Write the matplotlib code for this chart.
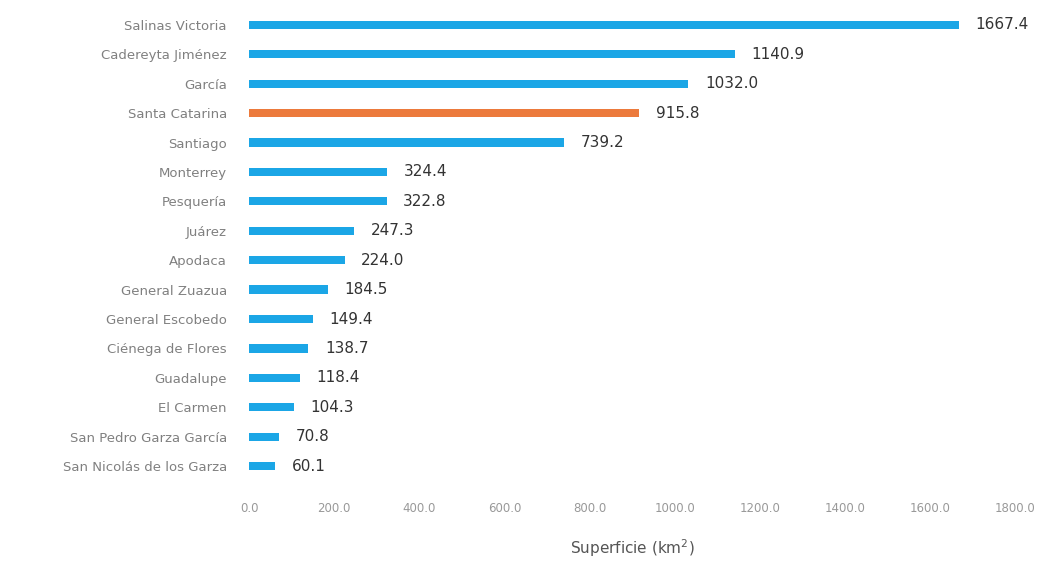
import numpy as np
import matplotlib
matplotlib.use("Agg")
import matplotlib.pyplot as plt

municipios = ["Salinas Victoria", "Cadereyta Jiménez", "García", "Santa Catarina",
              "Santiago", "Monterrey", "Pesquería", "Juárez", "Apodaca",
              "General Zuazua", "General Escobedo", "Ciénega de Flores", "Guadalupe",
              "El Carmen", "San Pedro Garza García", "San Nicolás de los Garza"]
superficie = [1667.4, 1140.9, 1032.0, 915.8, 739.2, 324.4, 322.8, 247.3, 224.0,
              184.5, 149.4, 138.7, 118.4, 104.3, 70.8, 60.1]
destacado = "Santa Catarina"
xticks = [0, 200, 400, 600, 800, 1000, 1200, 1400, 1600, 1800]

azul = "#1ba6e6"
naranja = "#ec7a3c"

fig = plt.figure(figsize=(10.47, 5.65), dpi=100)
ax = fig.add_axes([0.238, 0.149, 0.7316, 0.833])

y = np.arange(len(municipios))[::-1]
colores = [naranja if m == destacado else azul for m in municipios]
ax.barh(y, superficie, height=0.28, color=colores)

for yi, v in zip(y, superficie):
    ax.annotate(f"{v:.1f}", (v, yi), xytext=(12, 0), textcoords="offset points",
                va="center", ha="left", fontsize=11, color="#333333")

ax.set_xlim(0, 1800)
ax.set_ylim(-0.5, len(municipios) - 0.5)
ax.set_yticks(y)
ax.set_yticklabels(municipios, fontsize=9.5, color="#808080")
ax.set_xticks(xticks)
ax.set_xticklabels([f"{t:.1f}" for t in xticks], fontsize=8.5, color="#999999")
ax.tick_params(length=0, axis="y", pad=16)
ax.tick_params(length=0, axis="x", pad=15)
for s in ax.spines.values():
    s.set_visible(False)
ax.set_xlabel("Superficie (km$^2$)", fontsize=11, color="#555555", labelpad=16)

fig.savefig("out.png", dpi=100)
